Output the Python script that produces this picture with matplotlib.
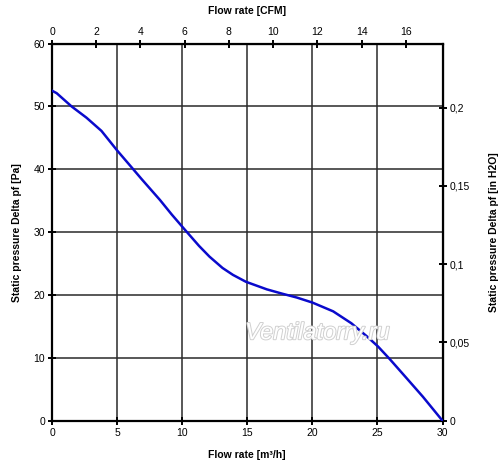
import numpy as np
import matplotlib
matplotlib.use("Agg")
import matplotlib.pyplot as plt
import matplotlib.patheffects as pe
from matplotlib.ticker import FuncFormatter

# --- curve (m3/h, Pa) ---
flow_m3h = [0.0, 0.36, 1.5, 2.65, 3.8, 5.0, 6.2, 6.9, 8.3, 9.2, 10.2, 11.3, 12.1,
            13.1, 13.9, 14.9, 16.5, 17.7, 18.8, 20.0, 21.6, 23.0, 24.2, 25.05,
            25.95, 27.25, 28.5, 30.0]
pressure_pa = [52.5, 52.1, 50.0, 48.2, 46.1, 43.0, 40.1, 38.4, 35.1, 32.8, 30.4, 27.8,
               26.1, 24.3, 23.2, 22.1, 20.9, 20.2, 19.6, 18.8, 17.4, 15.5, 13.4, 11.8,
               9.8, 6.75, 3.8, 0.0]

x_ticks = [0, 5, 10, 15, 20, 25, 30]
y_ticks = [0, 10, 20, 30, 40, 50, 60]
cfm_ticks = [0, 2, 4, 6, 8, 10, 12, 14, 16]
inh2o_ticks = [0, 0.05, 0.1, 0.15, 0.2]

M3H_PER_CFM = 1.699
PA_PER_INH2O = 249.0

plt.rcParams["font.family"] = ["Liberation Sans", "DejaVu Sans"]

fig = plt.figure(figsize=(5.0, 4.68), dpi=100)
ax = fig.add_axes([0.104, 0.101, 0.781, 0.806])

ax.plot(flow_m3h, pressure_pa, color="#0a0acc", linewidth=1.8, zorder=3,
        solid_joinstyle="round")

ax.set_xlim(0, 30)
ax.set_ylim(0, 60)
ax.set_xticks(x_ticks)
ax.set_yticks(y_ticks)
ax.grid(True, color="#2a2a2a", linewidth=1.1)

for s in ax.spines.values():
    s.set_linewidth(1.6)
    s.set_color("black")

tick_kw = dict(labelsize=7.5, direction="inout", length=6, width=1.4, colors="black", pad=2)
ax.tick_params(**tick_kw)

ax.set_xlabel("Flow rate [m³/h]", fontsize=7.5, fontweight="bold", labelpad=9)
ax.set_ylabel("Static pressure Delta pf [Pa]", fontsize=7.5, fontweight="bold", labelpad=8)

# top axis in CFM
top = ax.secondary_xaxis("top", functions=(lambda v: v / M3H_PER_CFM, lambda v: v * M3H_PER_CFM))
top.set_xticks(cfm_ticks)
top.tick_params(**tick_kw)
top.set_xlabel("Flow rate [CFM]", fontsize=7.5, fontweight="bold", labelpad=9)

# right axis in inches of water
right = ax.secondary_yaxis("right", functions=(lambda v: v / PA_PER_INH2O, lambda v: v * PA_PER_INH2O))
right.set_yticks(inh2o_ticks)
right.yaxis.set_major_formatter(FuncFormatter(lambda v, p: f"{v:g}".replace(".", ",")))
right.tick_params(**tick_kw)
right.set_ylabel("Static pressure Delta pf [in H2O]", fontsize=7.5, fontweight="bold", labelpad=14)
right.yaxis.label.set_rotation(90)

# watermark
ax.text(20.4, 14.0, "Ventilatorry.ru", fontsize=17, style="italic", family="Liberation Sans",
        color="white", ha="center", va="center", zorder=4,
        path_effects=[pe.withStroke(linewidth=1.4, foreground="#d0d0d0")])

fig.savefig("out.png", dpi=100)
